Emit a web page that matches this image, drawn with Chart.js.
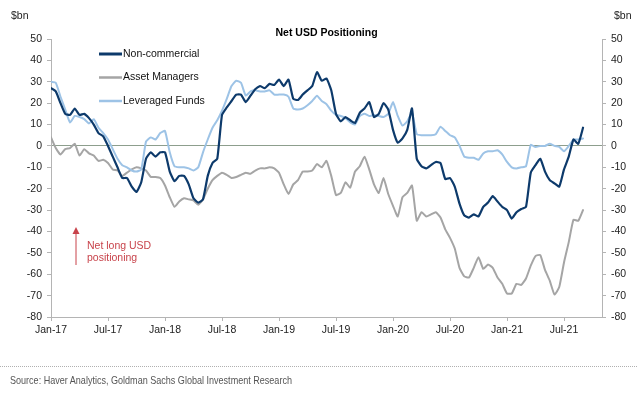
<!DOCTYPE html>
<html>
<head>
<meta charset="utf-8">
<script src="https://cdn.jsdelivr.net/npm/chart.js@4/dist/chart.umd.min.js"></script>
<style>
  body { margin: 0; background: #fff; }
  #wrap { position: relative; width: 637px; height: 399px; }
  #rule {
    position: absolute; left: 0; top: 366px; width: 637px;
    border-top: 1px dotted #b0b0b0;
  }
  #source {
    position: absolute; left: 10px; top: 374px; white-space: nowrap;
    font-family: "Liberation Sans", Arial, sans-serif;
    font-size: 11px; color: #555; transform-origin: 0 0;
  }
</style>
</head>
<body>
<div id="wrap">
  <canvas id="chart" width="637" height="399"></canvas>
  <div id="rule"></div>
  <div id="source">Source: Haver Analytics, Goldman Sachs Global Investment Research</div>
</div>
<script>
// semi-monthly observations, x = months since Jan-17
const months = Array.from({ length: 113 }, (_, i) => i * 0.5);

const nonCommercial = [27, 25.5, 20, 15, 14.5, 17.5, 14.5, 15, 13, 10,
    6, 4.5, 0, -5, -10, -15, -15, -19, -21.5, -17,
    -6, -3, -5, -3, -3, -12, -16.5, -14, -14, -18,
    -24.5, -26.5, -25, -14, -8, -6, 14.5, 18, 21, 24,
    24, 20.5, 23.5, 26.5, 28, 27, 29, 28.5, 31, 28,
    31, 22, 21.5, 24, 26, 28, 34.5, 30.5, 31.5, 26,
    15, 11.5, 13.5, 12, 10.7, 15.5, 17.5, 20.5, 13.5, 15,
    20, 17, 7.5, 1.5, 3.5, 7.5, 17.5, -6, -9.5, -10.5,
    -9, -7.5, -8, -15.5, -15, -19, -27, -32.5, -33.5, -32,
    -33, -28.5, -26.5, -23.5, -26, -28.5, -30, -34, -31, -29.5,
    -28.5, -12.5, -9, -6, -12, -16, -17.5, -19, -11, -5,
    3, 1, 8.5];

const assetManagers = [4, -1, -4, -1.5, -1, 1, -4.5, -1.5, -3.5, -4.5,
    -7, -6.5, -8, -11, -11.5, -14, -12.5, -11, -10, -10.5,
    -11.5, -14.5, -14.5, -15, -18.5, -24, -28.5, -26, -24.5, -25,
    -25.5, -27.5, -25, -20, -16, -14, -12.5, -13.5, -15, -14.5,
    -13.5, -12.5, -13, -11.5, -10.5, -10.5, -10, -10.5, -12.5, -18,
    -22.5, -18, -16, -12, -12, -11.5, -8.5, -10, -7, -14,
    -23, -22, -17, -19.5, -12, -9.5, -5, -11, -18, -22,
    -15, -22.5, -28, -33, -24, -22, -18.5, -35, -31, -33,
    -32, -31, -33.5, -39, -43, -48, -57, -61, -61.5, -57,
    -52, -57.5, -55.5, -57, -61.5, -64.5, -69, -69, -64.5, -65,
    -62, -56, -51.5, -51, -58, -63, -69.5, -66, -54.5, -45,
    -34.5, -35, -30];

const leveragedFunds = [30, 29.5, 23, 17, 11, 14, 13.5, 12.5, 10.5, 12.5,
    8.5, 6, 3, -1.5, -6, -9, -10, -11.5, -12, -11,
    2, 4, 3, 6, 7, -3, -9.5, -10, -10, -10.5,
    -11.5, -10, -3, 3, 8.5, 12, 16.5, 22, 28, 30.5,
    29.5, 23.5, 25.5, 26, 25.5, 25.5, 26, 24, 24, 24,
    23, 17.5, 17, 17.5, 19, 21, 23.5, 21, 19.5, 16.5,
    14.5, 14, 13, 11, 10, 14, 15, 14, 14.5, 14,
    13.5, 15, 20.5, 14, 9.5, 11.5, 15.5, 5.5, 5, 5,
    5, 5.5, 9, 7, 5, 4, 0, -5, -5.5, -5.5,
    -6.5, -3.5, -2.5, -2.5, -2, -4, -7.5, -10, -10.5, -10,
    -9.5, 0.5, -0.5, 0, 0, 1, 0, -0.5, -2.5, 0,
    3, 3, 3.5];

const tickMonths = [0, 6, 12, 18, 24, 30, 36, 42, 48, 54];
const tickLabels = ['Jan-17', 'Jul-17', 'Jan-18', 'Jul-18', 'Jan-19', 'Jul-19', 'Jan-20', 'Jul-20', 'Jan-21', 'Jul-21'];

const FONT = '"Liberation Sans", Arial, sans-serif';
const AXIS_GREY = '#b4b4b4';

function toPoints(values) {
    return values.map((v, i) => ({ x: months[i], y: v }));
}

// source line is set in a narrow face in the original; squeeze it to the same width
const src = document.getElementById('source');
src.style.transform = 'scaleX(' + (282 / src.offsetWidth).toFixed(3) + ')';

// legend, annotation, title and unit labels
const overlay = {
    id: 'overlay',
    afterDraw(chart) {
        const c = chart.ctx;
        const area = chart.chartArea;
        c.save();
        c.textBaseline = 'middle';

        c.fillStyle = '#000';
        c.font = 'bold 10.5px ' + FONT;
        c.textAlign = 'center';
        c.fillText('Net USD Positioning', (area.left + area.right) / 2, 33);

        c.font = '10.5px ' + FONT;
        c.fillStyle = '#222';
        c.textAlign = 'left';
        c.fillText('$bn', 11, 16);
        c.fillText('$bn', 614, 16);

        // legend
        chart.data.datasets.forEach((ds, i) => {
            const y = 54 + i * 23.5;
            c.strokeStyle = ds.borderColor;
            c.lineWidth = i === 0 ? 3 : 2.5;
            c.beginPath();
            c.moveTo(99, y);
            c.lineTo(122, y);
            c.stroke();
            c.fillStyle = '#111';
            c.fillText(ds.label, 123, y);
        });

        // annotation
        const red = '#c8434b';
        c.strokeStyle = red;
        c.fillStyle = red;
        c.lineWidth = 1;
        c.beginPath();
        c.moveTo(76, 265);
        c.lineTo(76, 233);
        c.stroke();
        c.beginPath();
        c.moveTo(76, 227);
        c.lineTo(72.5, 234);
        c.lineTo(79.5, 234);
        c.closePath();
        c.fill();
        c.fillText('Net long USD', 87, 246);
        c.fillText('positioning', 87, 258);
        c.restore();
    }
};

const yAxis = (position, width) => ({
    type: 'linear',
    position: position,
    min: -80,
    max: 50,
    afterFit: scale => { scale.width = width; },
    border: { color: AXIS_GREY },
    grid: {
        drawOnChartArea: position === 'left',
        color: ctx => (ctx.tick && ctx.tick.value === 0 ? '#8d9e8d' : 'rgba(0,0,0,0)'),
        tickColor: AXIS_GREY,
        tickLength: 4
    },
    ticks: {
        stepSize: 10,
        padding: 5,
        color: '#222',
        font: { family: FONT, size: 10.5 }
    }
});

new Chart(document.getElementById('chart'), {
    type: 'line',
    data: {
        datasets: [
            { label: 'Non-commercial', data: toPoints(nonCommercial), borderColor: '#0d3a6b', borderWidth: 2.2, order: 1 },
            { label: 'Asset Managers', data: toPoints(assetManagers), borderColor: '#a5a5a5', borderWidth: 2, order: 3 },
            { label: 'Leveraged Funds', data: toPoints(leveragedFunds), borderColor: '#9dc3e6', borderWidth: 2, order: 2 }
        ]
    },
    options: {
        responsive: false,
        animation: false,
        layout: { padding: { top: 39, left: 0, right: 0, bottom: 0 } },
        elements: {
            point: { radius: 0 },
            line: { tension: 0.15, borderCapStyle: 'round', borderJoinStyle: 'round' }
        },
        plugins: {
            legend: { display: false },
            title: { display: false },
            tooltip: { enabled: false }
        },
        scales: {
            x: {
                type: 'linear',
                min: 0,
                max: 58,
                afterFit: scale => { scale.height = 82; },
                afterBuildTicks: scale => { scale.ticks = tickMonths.map(v => ({ value: v })); },
                border: { color: AXIS_GREY },
                grid: { drawOnChartArea: false, tickColor: AXIS_GREY, tickLength: 4 },
                ticks: {
                    autoSkip: false,
                    maxRotation: 0,
                    padding: 3,
                    color: '#222',
                    font: { family: FONT, size: 10.5 },
                    callback: value => tickLabels[tickMonths.indexOf(value)]
                }
            },
            y: yAxis('left', 51),
            y2: yAxis('right', 35)
        }
    },
    plugins: [overlay]
});
</script>
</body>
</html>
